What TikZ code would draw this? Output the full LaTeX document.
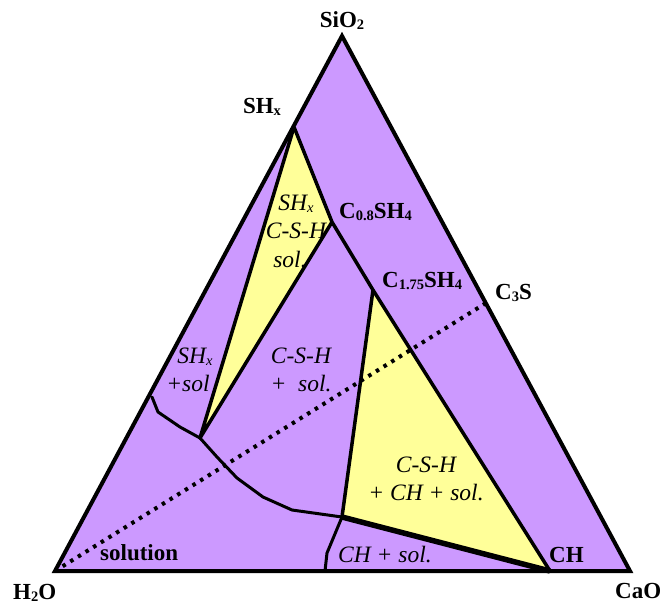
\documentclass[tikz,border=0pt]{standalone}
\usepackage{fontspec}
\setmainfont{Liberation Serif}
\newcommand{\mysub}[1]{\raisebox{-0.1em}{\fontsize{14.5}{15}\selectfont #1}}
\begin{document}
\begin{tikzpicture}[x=1pt,y=-1pt,
  lab/.style={inner sep=0pt,font=\fontsize{23}{28}\selectfont\bfseries},
  phase/.style={inner sep=0pt,font=\fontsize{23.5}{28}\selectfont\itshape},
  edge/.style={line width=4pt,line join=round},
  bound/.style={line width=3.5pt,line join=round},
  thinbound/.style={line width=3pt,line join=round,line cap=round},
  dotline/.style={line width=4pt,dash pattern=on 3.5pt off 5.5pt}]
\definecolor{lilac}{RGB}{204,153,255}
\definecolor{paleyellow}{RGB}{255,255,153}
\useasboundingbox (0,0) rectangle (662,606);
% key points
\coordinate (A) at (55,571);
\coordinate (B) at (630,571);
\coordinate (T) at (342,36);
\coordinate (S) at (294,127);
\coordinate (P) at (332,222);
\coordinate (Q) at (373,290);
\coordinate (H) at (550,571);
\coordinate (C3) at (486,303);
\coordinate (Y) at (200,438);
\coordinate (J) at (342,517);
\coordinate (L) at (152,397);
\coordinate (K) at (325,571);
% fills
\fill[lilac] (A) -- (B) -- (T) -- cycle;
\fill[paleyellow] (S) -- (P) -- (Y) -- cycle;
\fill[paleyellow] (Q) -- (J) -- (H) -- cycle;
% phase boundaries
\draw[bound] (S) -- (Y) -- (P);
\draw[bound] (S) -- (P) -- (Q) -- (H);
\draw[bound] (Q) -- (J);
\draw[line width=5.5pt] (J) -- (H);
\draw[thinbound] (L) -- (158,412) -- (180,427) -- (Y);
\draw[thinbound] (Y) -- (217,457) -- (237,478) -- (263,497) -- (292,510) -- (J);
\draw[thinbound] (J) -- (327,553) -- (K);
% dotted join line
\draw[dotline] (A) -- (C3);
% outer triangle
\draw[edge,line join=miter] (A) -- (B) -- (T) -- cycle;
% vertex and compound labels
\node[lab,anchor=base] (nSiO) at (342,27) {SiO\mysub{2}};
\node[lab,anchor=base west] (nHO) at (13,599) {H\mysub{2}O};
\node[lab,anchor=base west] (nCaO) at (615,598) {CaO};
\node[lab,anchor=base] (nSH) at (262,113) {SH\mysub{x}};
\node[lab,anchor=base west] (nC08) at (339,218) {C\mysub{0.8}SH\mysub{4}};
\node[lab,anchor=base west] (nC175) at (382,287) {C\mysub{1.75}SH\mysub{4}};
\node[lab,anchor=base west] (nC3S) at (495,299) {C\mysub{3}S};
\node[lab,anchor=base west] (nCH) at (549,562) {CH};
\node[lab,anchor=base west] (nsol) at (100,560) {solution};
% phase field labels
\node[phase,anchor=base] (f1a) at (296,210) {SH\mysub{x}};
\node[phase,anchor=base] (f1b) at (296,238) {C-S-H};
\node[phase,anchor=base] (f1c) at (290,267) {sol.};
\node[phase,anchor=base] (f2a) at (195,363) {SH\mysub{x}};
\node[phase,anchor=base] (f2b) at (188,391) {+sol};
\node[phase,anchor=base] (f3a) at (301,363) {C-S-H};
\node[phase,anchor=base] (f3b) at (301,391) {+\ \ sol.};
\node[phase,anchor=base] (f4a) at (426,472) {C-S-H};
\node[phase,anchor=base] (f4b) at (426,500) {+ CH + sol.};
\node[phase,anchor=base west] (f5) at (338,562) {CH + sol.};
\end{tikzpicture}
\end{document}
